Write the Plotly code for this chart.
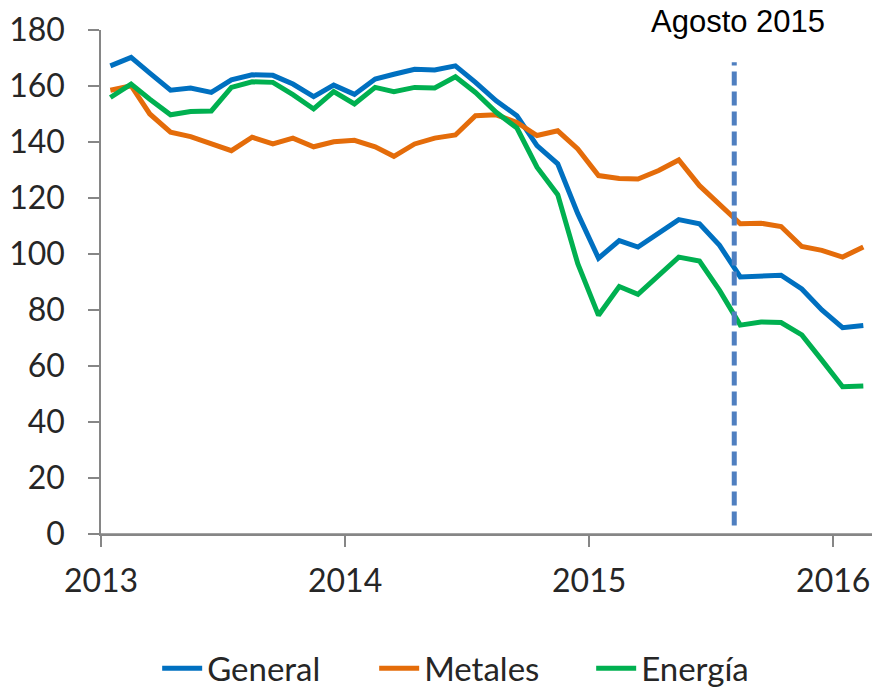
import pandas as pd
import plotly.graph_objects as go

# monthly index values, Jan 2013 - Feb 2016
meses = pd.date_range("2013-01-01", "2016-02-01", freq="MS") + pd.Timedelta(days=14)

general = [167.2, 170.2, 164.6, 158.5, 159.3, 157.7, 162.2, 164.0, 163.8, 160.7, 156.2, 160.3,
           157.0, 162.5, 164.2, 166.0, 165.7, 167.2, 161.3, 154.7, 149.4, 138.7, 132.2, 114.4,
           98.5, 104.8, 102.5, 107.5, 112.3, 110.8, 103.1, 91.8, 92.1, 92.4, 87.5, 80.0,
           73.7, 74.5]
metales = [158.5, 160.1, 150.0, 143.5, 141.9, 139.3, 136.9, 141.7, 139.3, 141.4, 138.3, 140.1,
           140.6, 138.3, 134.9, 139.3, 141.4, 142.5, 149.4, 149.7, 147.0, 142.3, 144.0, 137.5,
           128.0, 127.0, 126.8, 129.8, 133.6, 124.4, 117.9, 110.8, 111.0, 109.8, 102.7, 101.3,
           98.9, 102.5]
energia = [155.9, 160.7, 155.3, 149.7, 150.9, 151.1, 159.5, 161.5, 161.3, 156.9, 151.8, 158.0,
           153.6, 159.5, 158.0, 159.5, 159.3, 163.3, 157.7, 150.6, 145.0, 131.0, 121.2, 96.5,
           78.1, 88.4, 85.6, 92.4, 98.9, 97.5, 87.0, 74.6, 75.7, 75.5, 71.1, 62.1,
           52.6, 52.9]

series = ["General", "Metales", "Energía"]
colores = ["#0070C0", "#E46C0A", "#00B050"]
marca_fecha = "2015-08-06"
marca_texto = "Agosto 2015"

fuente = "Lato"

fig = go.Figure()
for nombre, vals, col in zip(series, [general, metales, energia], colores):
    fig.add_trace(go.Scatter(x=meses, y=vals, name=nombre, mode="lines",
                             line=dict(color=col, width=5)))

# dashed vertical marker
fig.add_shape(type="line", xref="x", yref="y", x0=marca_fecha, x1=marca_fecha, y0=3, y1=168.5,
              line=dict(color="#4F7FC0", width=5, dash="14px,6px"))
fig.add_annotation(x=marca_fecha, y=1, xref="x", yref="paper", text=marca_texto, showarrow=False,
                   yanchor="middle", yshift=9, xshift=4, borderpad=0,
                   font=dict(family="Liberation Sans, Arial", size=31, color="#000000"))

# x axis line extending slightly left of the y axis
fig.add_shape(type="line", xref="paper", yref="y", x0=-0.014, x1=1.0, y0=0, y1=0,
              line=dict(color="#868686", width=1.5))

fig.update_layout(
    width=883, height=691,
    margin=dict(l=101, r=11, t=30, b=157),
    plot_bgcolor="white", paper_bgcolor="white",
    font=dict(family=fuente, size=32, color="#262626"),
    showlegend=True,
    legend=dict(orientation="h", xref="container", yref="container", x=0.178, y=0.033,
                xanchor="left", yanchor="middle", font=dict(size=33, color="#262626"),
                itemwidth=40, entrywidth=162),
)
fig.update_xaxes(type="date", range=["2013-01-01", "2016-02-28"],
                 tickvals=["2013-01-01", "2014-01-01", "2015-01-01", "2016-01-01"],
                 ticktext=["2013", "2014", "2015", "2016"], automargin=False,
                 showgrid=False, zeroline=False, showline=True, linecolor="#868686", linewidth=1.5,
                 ticks="outside", ticklen=11, tickcolor="#868686", tickwidth=1.5,
                 ticklabelstandoff=7)
fig.update_yaxes(range=[0, 180], dtick=20, showgrid=False, zeroline=False, automargin=False,
                 showline=True, linecolor="#868686", linewidth=1.5,
                 ticks="outside", ticklen=11, tickcolor="#868686", tickwidth=1.5,
                 ticklabelstandoff=17)

# drop the default page margin so the figure sits at the window's corner
fig.write_html("out.html", config={"displayModeBar": False},
               post_script="document.body.style.margin = '0';")
